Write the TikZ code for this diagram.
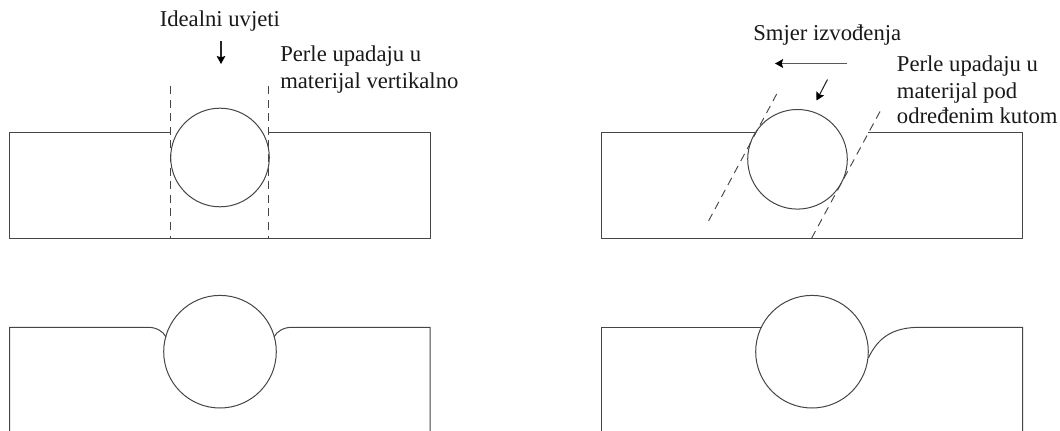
\documentclass[tikz,border=0pt]{standalone}
\usepackage{fontspec}
\setmainfont{Liberation Serif}
\usetikzlibrary{arrows.meta}
\definecolor{ink}{gray}{0.27}
\tikzset{
  x=0.75pt,y=-0.75pt,
  outline/.style={draw=ink,line width=0.75pt,line join=miter},
  bead/.style={draw=ink,line width=0.75pt},
  guide/.style={draw=ink,line width=0.7pt,dash pattern=on 6pt off 4.2pt},
  pointer/.style={draw=black!85,line width=0.8pt,-{Stealth[length=6pt,width=6.5pt,inset=1pt,color=black,fill=black]}},
  label/.style={font=\fontsize{17pt}{20pt}\selectfont,text=black!90,inner sep=0pt,anchor=base west,align=left},
}
\begin{document}
\begin{tikzpicture}
\useasboundingbox (0,0) rectangle (1060,431);
% top left
\draw[outline] (170.5,133) -- (9.5,133) -- (9.5,238) -- (430,238) -- (430,133) -- (268.5,133);
\draw[bead] (220,157.5) circle[radius=49.3];
\draw[guide] (170.5,86) -- (170.5,238);
\draw[guide] (268.5,86) -- (268.5,238);
\node[label] (ideal) at (159.5,26.5) {Idealni uvjeti};
\node[label] (perleA) at (280,61.7) {Perle upadaju u};
\node[label] (matA) at (280,88.3) {materijal vertikalno};
\coordinate (a1) at (221,41.5);
\coordinate (a2) at (221,64);
\draw[pointer] (a1) -- (a2);
% top right
\draw[outline] (755.5,133) -- (601.5,133) -- (601.5,238) -- (1022.5,238) -- (1022.5,133) -- (868,133);
\draw[bead] (797.5,159.3) circle[radius=49.8];
\draw[guide] (776.7,94) -- (708,222);
\draw[guide] (880,111.5) -- (811.7,238);
\node[label] (smjer) at (753,40.7) {Smjer izvođenja};
\node[label] (perleB) at (896.7,71.7) {Perle upadaju u};
\node[label] (matB) at (896.7,98.3) {materijal pod};
\node[label] (odr) at (896.7,124) {određenim kutom};
\coordinate (b1) at (847,63.5);
\coordinate (b2) at (775,63.5);
\draw[pointer,draw=black!65,line width=1.3pt] (b1) -- (b2);
\coordinate (c1) at (827.5,79.5);
\coordinate (c2) at (816.5,100.5);
\draw[pointer] (c1) -- (c2);
% bottom left
\draw[outline] (9.5,431) -- (9.5,327.3) -- (148,327.3) .. controls (156,327.3) and (163,331) .. (166,337);
\draw[outline] (430,431) -- (430,327.3) -- (292,327.3) .. controls (284,327.3) and (277,331) .. (274,337);
\draw[bead] (220,351.7) circle[radius=56.3];
% bottom right
\draw[outline] (601.5,431) -- (601.5,327.3) -- (761.7,327.3);
\draw[outline] (1022.5,431) -- (1022.5,327.3) -- (920,327.3) .. controls (892,327.3) and (878,338) .. (868.3,358);
\draw[bead] (812,351.7) circle[radius=56.3];
\end{tikzpicture}
\end{document}
